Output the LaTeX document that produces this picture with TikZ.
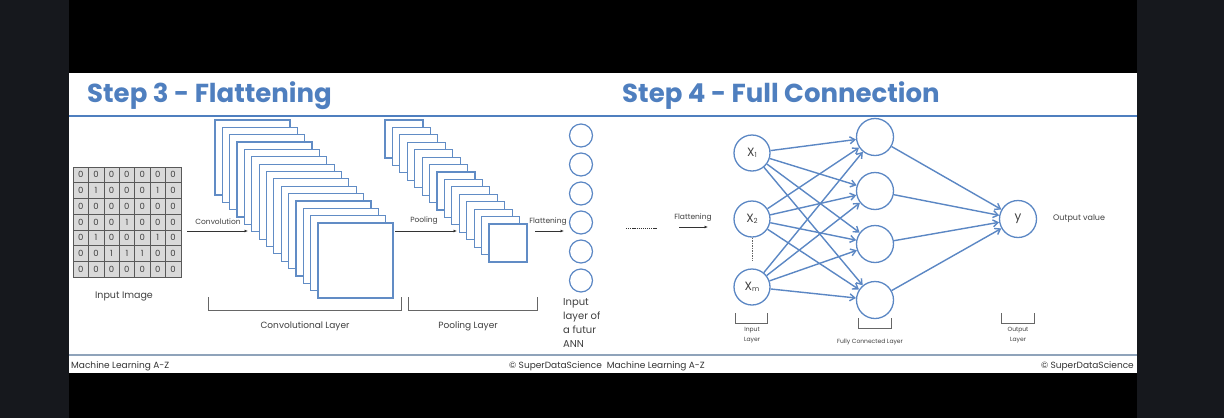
\documentclass[tikz,border=0pt]{standalone}
\usepackage{fontspec}
\setmainfont{Poppins}
\usetikzlibrary{arrows.meta,positioning}

\definecolor{sdsblue}{HTML}{4F7FBF}
\definecolor{netblue}{HTML}{5B87C4}
\definecolor{outerbg}{HTML}{16181D}
\definecolor{txtgray}{HTML}{404040}
\definecolor{rulegray}{HTML}{8FA3BA}

\newcommand{\nsub}[2]{#1\raisebox{-1pt}{\fontsize{7}{7}\selectfont #2}}

\begin{document}
\begin{tikzpicture}[x=1pt, y=-1pt,
    title/.style={font=\fontsize{26}{26}\selectfont\bfseries, text=sdsblue, anchor=west, inner sep=0},
    lbl/.style={font=\fontsize{9}{11}\selectfont, text=txtgray, inner sep=0},
    smalllbl/.style={font=\fontsize{7.5}{9}\selectfont, text=txtgray, inner sep=0},
    tinylbl/.style={font=\fontsize{6}{9.5}\selectfont, text=txtgray, align=center, inner sep=0},
    footer/.style={font=\fontsize{9}{11}\selectfont, text=black!80, inner sep=0},
    cell/.style={rectangle, draw=black!65, fill=black!15, line width=0.6pt,
                 minimum width=15.4pt, minimum height=15.7pt, inner sep=0,
                 font=\fontsize{8.5}{8.5}\selectfont, text=black!75},
    fmap/.style={rectangle, draw=sdsblue!90, fill=white, line width=1.2pt, inner sep=0},
    flatn/.style={circle, draw=netblue, line width=1.2pt, fill=white, minimum size=23pt, inner sep=0},
    neuron/.style={circle, draw=netblue, line width=1.3pt, fill=white, minimum size=37pt, inner sep=0,
                   font=\fontsize{12}{12}\selectfont, text=black!75},
    arr/.style={-{Latex[length=3.5pt,width=3pt]}, line width=0.8pt, black!80},
    conn/.style={-{Straight Barb[length=5pt,width=7pt]}, line width=1.4pt, netblue},
    brk/.style={line width=0.9pt, black!60}
]

% ---- Background ----
\useasboundingbox (0,0) rectangle (1224,418);
\fill[outerbg] (0,0) rectangle (1224,418);
\fill[black] (69,0) rectangle (1137,418);
\fill[white] (69,72.5) rectangle (1137,372.5);

% ---- Titles ----
\node[title] (t3) at (87,96) {Step 3 - Flattening};
\node[title] (t4) at (622,96) {Step 4 - Full Connection};
\draw[sdsblue, line width=2.5pt] (69,116) -- (1137,116);
\draw[rulegray, line width=1.2pt] (69,355) -- (1137,355);

% ---- Input Image ----
\foreach \row [count=\r] in {{0,0,0,0,0,0,0},{0,1,0,0,0,1,0},{0,0,0,0,0,0,0},{0,0,0,1,0,0,0},
                             {0,1,0,0,0,1,0},{0,0,1,1,1,0,0},{0,0,0,0,0,0,0}}
  \foreach \v [count=\c] in \row
    \node[cell] (m\r\c) at ({73+15.4*(\c-0.5)},{167+15.7*(\r-0.5)}) {\v};
\node[lbl, font=\fontsize{9.5}{11}\selectfont] (imglbl) at (124,296) {Input Image};

% ---- Convolution ----
\coordinate (convA) at (187,231);
\coordinate (convB) at (248,231);
\draw[arr] (convA) -- (convB);
\node[smalllbl] (convlbl) at (218,222) {Convolution};

\foreach \i in {0,...,14}
  \node[fmap, minimum size=75pt] (conv\i) at ({252.5+7.36*\i},{157.5+7.36*\i}) {};

\draw[brk] (208,297) -- (208,310) -- (401,310) -- (401,297);
\node[lbl] (convlayer) at (305,326) {Convolutional Layer};

% ---- Pooling ----
\coordinate (poolA) at (395,231);
\coordinate (poolB) at (457,231);
\draw[arr] (poolA) -- (poolB);
\node[smalllbl] (poollbl) at (424,221) {Pooling};

\foreach \i in {0,...,14}
  \node[fmap, minimum size=38pt] (pool\i) at ({404+7.43*\i},{139+7.43*\i}) {};

\draw[brk] (408,297) -- (408,310) -- (537,310) -- (537,297);
\node[lbl] (poollayer) at (468,326) {Pooling Layer};

% ---- Flattening ----
\coordinate (flatA) at (535,231);
\coordinate (flatB) at (564,231);
\draw[arr] (flatA) -- (flatB);
\node[smalllbl] (flatlbl) at (548,222) {Flattening};

\foreach \i in {1,...,6}
  \node[flatn] (f\i) at (581,{106.5+29*\i}) {};

\node[lbl, font=\fontsize{10}{14}\selectfont, align=left, anchor=north west] (annlbl) at (563,298)
    {Input\\layer of\\a futur\\ANN};

\coordinate (dotsA) at (626,228);
\coordinate (dotsB) at (657,228);
\draw[black!80, line width=0.8pt, dash pattern=on 1.2pt off 0.9pt] (dotsA) -- (dotsB);

\node[smalllbl] (flatlbl2) at (693,218) {Flattening};
\coordinate (flat2A) at (679,227);
\coordinate (flat2B) at (708,227);
\draw[arr] (flat2A) -- (flat2B);

% ---- Full Connection ----
\node[neuron, minimum size=36pt] (x1) at (752,153) {\nsub{X}{1}};
\node[neuron, minimum size=36pt] (x2) at (752,219) {\nsub{X}{2}};
\node[neuron, minimum size=36pt] (xm) at (752,287) {\nsub{X}{m}};
\draw[black!60, line width=0.8pt, dash pattern=on 1.5pt off 1pt] (x2.south) -- ([yshift=7pt]xm.north);

\node[neuron] (h1) at (875,137) {};
\node[neuron] (h2) at (875,191) {};
\node[neuron] (h3) at (875,244) {};
\node[neuron] (h4) at (875,300) {};

\node[neuron] (y) at (1018,219) {y};
\node[smalllbl, font=\fontsize{8}{9}\selectfont, anchor=west] (outval) at (1053,219) {Output value};

\foreach \a in {x1,x2,xm}
  \foreach \b in {h1,h2,h3,h4}
    \draw[conn] (\a) -- (\b);
\foreach \b in {h1,h2,h3,h4}
  \draw[conn] (\b) -- (y);

% ---- Layer brackets ----
\draw[brk, line width=0.7pt] (735,313) -- (735,323) -- (767,323) -- (767,313);
\node[tinylbl] (inlayer) at (752,335) {Input\\Layer};
\draw[brk, line width=0.7pt] (858,318) -- (858,328) -- (891,328) -- (891,318);
\node[tinylbl] (fclayer) at (870,342) {Fully Connected Layer};
\draw[brk, line width=0.7pt] (1001,313) -- (1001,323) -- (1034,323) -- (1034,313);
\node[tinylbl] (outlayer) at (1018,335) {Output\\Layer};

% ---- Footer ----
\node[footer, anchor=west] (foot1) at (71,366) {Machine Learning A-Z};
\node[footer] (foot2) at (607,366) {© SuperDataScience\ \ Machine Learning A-Z};
\node[footer, anchor=east] (foot3) at (1134,366) {© SuperDataScience};

\end{tikzpicture}
\end{document}
